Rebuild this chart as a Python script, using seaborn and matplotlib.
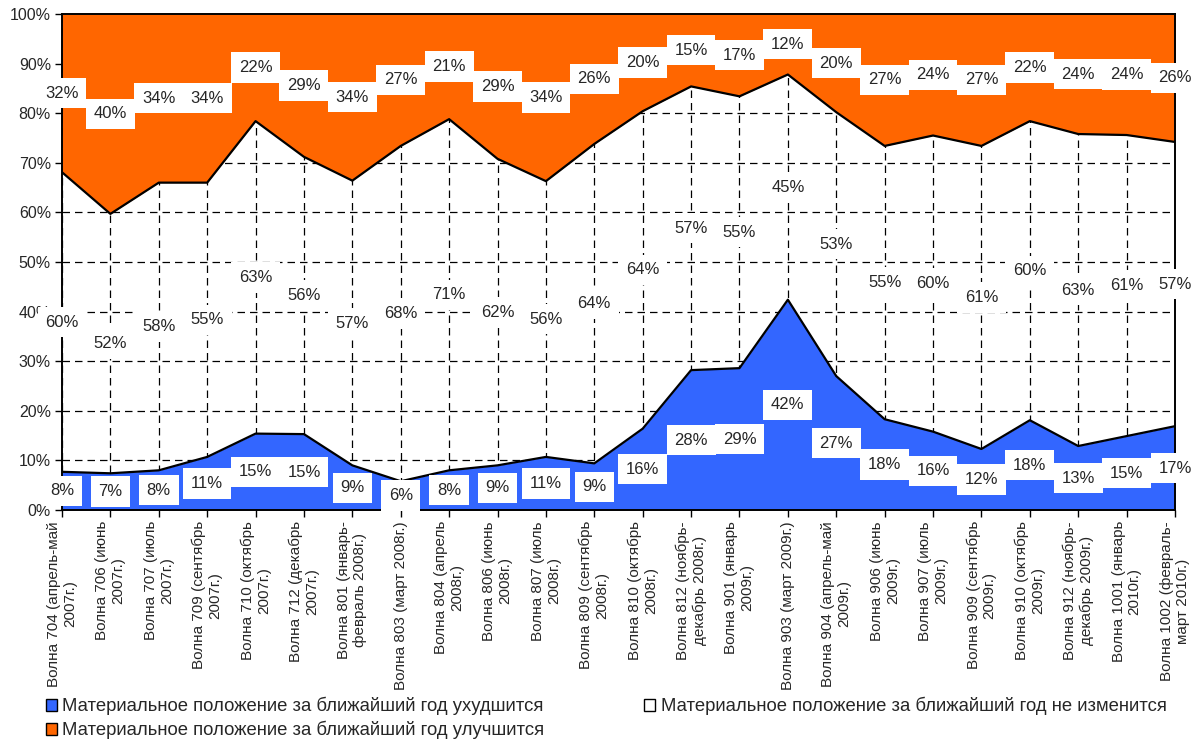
import numpy as np
import pandas as pd
import matplotlib
matplotlib.use("Agg")
import matplotlib.pyplot as plt
import seaborn as sns
from matplotlib.patches import Patch
from matplotlib.ticker import MultipleLocator, PercentFormatter

# -------------------------------
# DATA (percent of respondents)
# -------------------------------
waves = [
    "Волна 704 (апрель-май\n2007г.)",
    "Волна 706 (июнь\n2007г.)",
    "Волна 707 (июль\n2007г.)",
    "Волна 709 (сентябрь\n2007г.)",
    "Волна 710 (октябрь\n2007г.)",
    "Волна 712 (декабрь\n2007г.)",
    "Волна 801 (январь-\nфевраль 2008г.)",
    "Волна 803 (март 2008г.)",
    "Волна 804 (апрель\n2008г.)",
    "Волна 806 (июнь\n2008г.)",
    "Волна 807 (июль\n2008г.)",
    "Волна 809 (сентябрь\n2008г.)",
    "Волна 810 (октябрь\n2008г.)",
    "Волна 812 (ноябрь-\nдекабрь 2008г.)",
    "Волна 901 (январь\n2009г.)",
    "Волна 903 (март 2009г.)",
    "Волна 904 (апрель-май\n2009г.)",
    "Волна 906 (июнь\n2009г.)",
    "Волна 907 (июль\n2009г.)",
    "Волна 909 (сентябрь\n2009г.)",
    "Волна 910 (октябрь\n2009г.)",
    "Волна 912 (ноябрь-\nдекабрь 2009г.)",
    "Волна 1001 (январь\n2010г.)",
    "Волна 1002 (февраль-\nмарт 2010г.)",
]
worse = [7.7, 7.4, 8.0, 10.7, 15.4, 15.3, 9.0, 5.8, 8.0, 9.0, 10.7, 9.4,
         16.4, 28.2, 28.6, 42.4, 27.0, 18.3, 15.8, 12.3, 18.1, 12.9, 14.9, 16.9]
better = [31.9, 40.3, 34.0, 34.0, 21.6, 28.8, 33.6, 26.6, 21.2, 29.2, 33.7, 26.2,
          19.6, 14.6, 16.6, 12.2, 19.8, 26.6, 24.5, 26.6, 21.6, 24.2, 24.4, 25.8]
same = [round(100 - w - b, 1) for w, b in zip(worse, better)]

label_worse = "Материальное положение за ближайший год ухудшится"
label_same = "Материальное положение за ближайший год не изменится"
label_better = "Материальное положение за ближайший год улучшится"

BLUE = "#3366FF"
ORANGE = "#FF6600"

df = pd.DataFrame({"x": np.arange(len(waves)), "worse": worse, "same": same, "better": better})
df["lvl1"] = df["worse"]
df["lvl2"] = df["worse"] + df["same"]

# -------------------------------
# STYLE
# -------------------------------
sns.set_style("white")
plt.rcParams["font.family"] = ["Liberation Sans", "DejaVu Sans"]

fig = plt.figure(figsize=(12.01, 7.40), dpi=100)
ax = fig.add_axes([62 / 1201, 1 - 510 / 740, (1175 - 62) / 1201, (510 - 14) / 740])

# grid first so the coloured areas cover it
for xv in df["x"]:
    ax.axvline(xv, color="black", lw=0.9, ls=(0, (6, 4)), zorder=0)
for yv in range(10, 100, 10):
    ax.axhline(yv, color="black", lw=0.9, ls=(0, (6, 4)), zorder=0)

# stacked areas
ax.fill_between(df["x"], 0, df["lvl1"], color=BLUE, lw=0, zorder=1)
ax.fill_between(df["x"], df["lvl2"], 100, color=ORANGE, lw=0, zorder=1)
sns.lineplot(data=df, x="x", y="lvl1", color="black", lw=1.6, ax=ax, zorder=2)
sns.lineplot(data=df, x="x", y="lvl2", color="black", lw=1.6, ax=ax, zorder=2)

# data labels centred in each band
box = dict(facecolor="white", edgecolor="none", pad=5.5)
fs = 12
for i, r in df.iterrows():
    ax.text(r["x"], r["worse"] / 2, f"{r['worse']:.0f}%", ha="center", va="center",
            fontsize=fs, bbox=box, zorder=5, clip_on=False)
    ax.text(r["x"], r["lvl1"] + r["same"] / 2, f"{r['same']:.0f}%", ha="center", va="center",
            fontsize=fs, bbox=box, zorder=5, clip_on=False)
    ax.text(r["x"], r["lvl2"] + r["better"] / 2, f"{r['better']:.0f}%", ha="center", va="center",
            fontsize=fs, bbox=box, zorder=5, clip_on=False)

# axes
ax.set_xlim(0, len(waves) - 1)
ax.set_ylim(0, 100)
ax.yaxis.set_major_locator(MultipleLocator(10))
ax.yaxis.set_major_formatter(PercentFormatter(decimals=0))
ax.set_xticks(df["x"])
ax.set_xticklabels(waves, rotation=90, ha="center", va="top", multialignment="center")
ax.set_xlabel("")
ax.set_ylabel("")
ax.tick_params(axis="both", direction="out", length=5, width=1, color="black",
               labelsize=11.5, pad=3, bottom=True, left=True)
ax.tick_params(axis="x", labelsize=11)
for s in ax.spines.values():
    s.set_color("black")
    s.set_linewidth(1.4)
    s.set_zorder(4)

# legend
handles = [
    Patch(facecolor=BLUE, edgecolor="black", label=label_worse),
    Patch(facecolor=ORANGE, edgecolor="black", label=label_better),
    Patch(facecolor="white", edgecolor="black", label=label_same),
]
fig.legend(handles=handles, loc="upper left", bbox_to_anchor=(0.038, 0.058), ncol=2,
           frameon=False, fontsize=13.3, handlelength=0.6, handleheight=0.6,
           handletextpad=0.3, columnspacing=5.4, labelspacing=0.3, borderaxespad=0,
           borderpad=0)

fig.savefig("out.png", dpi=100)
